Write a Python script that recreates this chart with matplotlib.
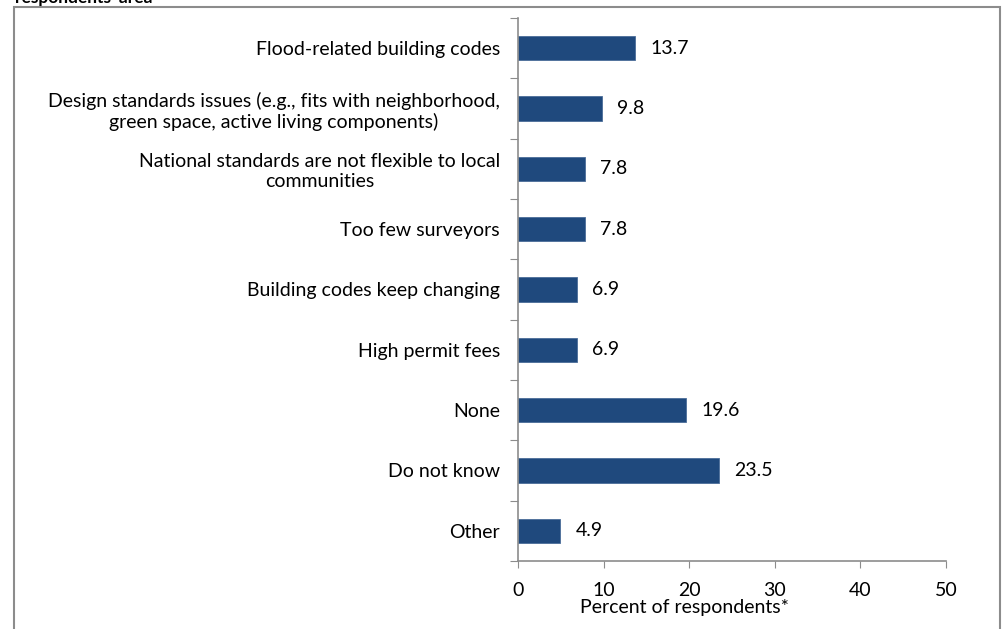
import matplotlib.pyplot as plt
from matplotlib.patches import Rectangle

plt.rcParams['font.family'] = ['Lato', 'DejaVu Sans']

# 데이터
categories = [
    'Flood-related building codes',
    'Design standards issues (e.g., fits with neighborhood,\ngreen space, active living components)',
    'National standards are not flexible to local\ncommunities',
    'Too few surveyors',
    'Building codes keep changing',
    'High permit fees',
    'None',
    'Do not know',
    'Other',
]
values = [13.7, 9.8, 7.8, 7.8, 6.9, 6.9, 19.6, 23.5, 4.9]
x_ticks = [0, 10, 20, 30, 40, 50]

fig = plt.figure(figsize=(10.03, 6.29), dpi=100)
ax = fig.add_axes([518 / 1003, 1 - 561 / 629, (946 - 518) / 1003, (561 - 18) / 629])

# 바깥 테두리
fig.patches.append(Rectangle((14 / 1003, -0.05), (1000 - 14) / 1003, 1.05 - 7 / 629,
                             transform=fig.transFigure, fill=False,
                             edgecolor='#8c8c8c', linewidth=1.5))

# 잘린 제목
fig.text(15 / 1003, 1 - 3 / 629, "respondents' area", fontsize=12.5, fontweight='bold',
         va='baseline', ha='left')

pos = list(range(len(categories)))
ax.barh(pos, values, height=0.4, color='#1f497d', edgecolor='#4a6d99', linewidth=0.6)

for p, v in zip(pos, values):
    ax.text(v + 1.8, p, f'{v:.1f}', va='center', ha='left', fontsize=14)

ax.set_ylim(len(categories) - 0.5, -0.5)
ax.set_xlim(0, 50)
ax.set_yticks([p + 0.5 for p in [-1] + pos])
ax.set_yticklabels([])
ax.set_yticks(pos, minor=True)
ax.set_yticklabels(categories, minor=True, fontsize=14, multialignment='center')
ax.tick_params(axis='y', which='minor', length=0, pad=13)
ax.tick_params(axis='y', which='major', length=6, color='#8c8c8c', direction='out')

ax.set_xticks(x_ticks)
ax.set_xticklabels([str(t) for t in x_ticks], fontsize=14)
ax.tick_params(axis='x', length=5, color='#8c8c8c', pad=10)
ax.set_xlabel('Percent of respondents*', fontsize=14, labelpad=0)
ax.xaxis.set_label_coords((684 - 518) / (946 - 518), -(607 - 561) / (561 - 18))
ax.xaxis.label.set_verticalalignment('center')

for s in ['top', 'right']:
    ax.spines[s].set_visible(False)
for s in ['left', 'bottom']:
    ax.spines[s].set_color('#8c8c8c')
    ax.spines[s].set_linewidth(1.2)

plt.savefig('out.png', dpi=100)
